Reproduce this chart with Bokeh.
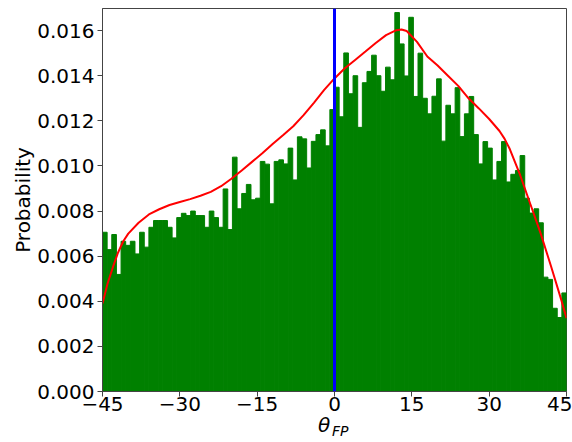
import numpy as np
from bokeh.plotting import figure
from bokeh.layouts import column
from bokeh.models import Range1d, FixedTicker, Span, Div, NumeralTickFormatter
from bokeh.embed import file_html
from bokeh.resources import INLINE

# Histogram of theta_FP: 100 equal bins spanning -45..45 degrees
bin_lo, bin_hi, n_bins = -45.0, 45.0, 100
hist_vals = [
    7.06, 6.29, 6.96, 5.19, 6.66, 6.48, 6.66, 6.10, 7.06, 6.40,
    7.28, 7.58, 7.58, 7.58, 7.28, 6.81, 7.71, 7.90, 7.80, 8.00,
    7.80, 7.80, 7.28, 8.00, 7.71, 7.28, 8.98, 7.18, 10.39, 8.10,
    8.78, 9.18, 8.50, 8.57, 10.20, 10.08, 8.32, 10.20, 10.27, 10.09,
    10.79, 9.38, 11.29, 11.20, 9.91, 11.09, 11.39, 11.60, 10.89, 12.50,
    13.49, 12.18, 15.01, 13.20, 14.00, 11.71, 13.69, 14.19, 14.91, 14.00,
    13.31, 14.38, 13.82, 16.80, 15.41, 13.99, 16.59, 13.08, 15.00, 13.00,
    12.31, 13.09, 13.86, 11.10, 12.69, 12.31, 13.47, 11.30, 12.31, 13.08,
    11.39, 10.09, 11.08, 10.79, 9.38, 10.20, 11.08, 9.29, 9.63, 9.80,
    10.46, 8.57, 7.91, 8.10, 7.48, 5.07, 4.97, 3.69, 3.28, 4.37,
]  # x 1e-3

# Kernel density estimate of the same sample
kde_x = [-45, -44, -43, -42, -41, -40, -38, -36, -34, -32, -30, -28, -26,
         -24, -22, -20, -18, -16, -14, -12, -10, -8, -6, -4, -2, 0, 2, 4,
         6, 8, 10, 12, 13, 14, 16, 18, 20, 22, 24, 26, 28, 30, 32, 33, 34,
         36, 38, 40, 42, 44, 45]
kde_y = [3.90, 4.80, 5.50, 6.15, 6.65, 7.00, 7.48, 7.85, 8.08, 8.27, 8.40,
         8.53, 8.68, 8.85, 9.10, 9.43, 9.80, 10.18, 10.56, 10.97, 11.36,
         11.76, 12.25, 12.80, 13.37, 13.88, 14.33, 14.70, 15.07, 15.45,
         15.80, 16.02, 16.05, 15.98, 15.50, 14.85, 14.45, 14.00, 13.55,
         13.00, 12.55, 12.08, 11.55, 11.20, 10.75, 9.60, 8.30, 7.00, 5.55,
         4.05, 3.25]  # x 1e-3

x_ticks = [-45, -30, -15, 0, 15, 30, 45]
y_ticks = [0.000, 0.002, 0.004, 0.006, 0.008, 0.010, 0.012, 0.014, 0.016]

edges = np.linspace(bin_lo, bin_hi, n_bins + 1)
heights = np.array(hist_vals) * 1e-3
kx = np.array(kde_x, dtype=float)
ky = np.array(kde_y) * 1e-3

FONT = "DejaVu Sans"

p = figure(width=572, height=420, output_backend="svg", toolbar_location=None,
           x_range=Range1d(-45, 45), y_range=Range1d(0, 0.01698),
           min_border_left=102, min_border_right=6, min_border_top=8,
           min_border_bottom=29)
p.background_fill_color = "white"
p.border_fill_color = "white"
p.outline_line_color = "#444444"
p.outline_line_width = 1
p.xgrid.visible = False
p.ygrid.visible = False

p.quad(left=edges[:-1], right=edges[1:], bottom=0, top=heights,
       fill_color="#008000", line_color="#008000", line_width=1)
p.line(kx, ky, line_color="#ff0000", line_width=2)
p.add_layout(Span(location=0, dimension="height", line_color="#0000ff",
                  line_width=3))

for ax in (p.xaxis[0], p.yaxis[0]):
    ax.major_label_text_font = FONT
    ax.major_label_text_font_size = "20px"
    ax.major_label_text_color = "black"
    ax.major_tick_out = 5
    ax.major_tick_in = 0
    ax.minor_tick_line_color = None
    ax.axis_line_color = "#444444"
    ax.major_tick_line_color = "#444444"

p.xaxis.ticker = FixedTicker(ticks=x_ticks)
p.xaxis.major_label_overrides = {t: (f"\u2212{abs(t)}" if t < 0 else str(t)) for t in x_ticks}
p.xaxis.major_label_standoff = 0

p.yaxis.ticker = FixedTicker(ticks=y_ticks)
p.yaxis.formatter = NumeralTickFormatter(format="0.000")
p.yaxis.major_label_standoff = 3
p.yaxis.axis_label = "Probability"
p.yaxis.axis_label_text_font = FONT
p.yaxis.axis_label_text_font_size = "20px"
p.yaxis.axis_label_text_font_style = "normal"
p.yaxis.axis_label_text_color = "black"
p.yaxis.axis_label_standoff = -1

# x-axis title: italic theta with an FP subscript
xlabel = Div(
    text=(
        '<div style="position:relative;width:572px;height:22px;'
        'font-family:\'DejaVu Sans\';font-style:italic;color:black">'
        '<span style="position:absolute;left:318px;top:-5px;'
        'font-size:20px;line-height:20px">\u03b8</span>'
        '<span style="position:absolute;left:332px;top:4px;'
        'font-size:14px;line-height:14px">FP</span>'
        '</div>'
    ),
    width=572, height=22, margin=(0, 0, 0, 0),
    styles={"overflow": "visible"},
)

layout = column(p, xlabel, spacing=0)

open("out.html", "w").write(file_html(layout, INLINE))
